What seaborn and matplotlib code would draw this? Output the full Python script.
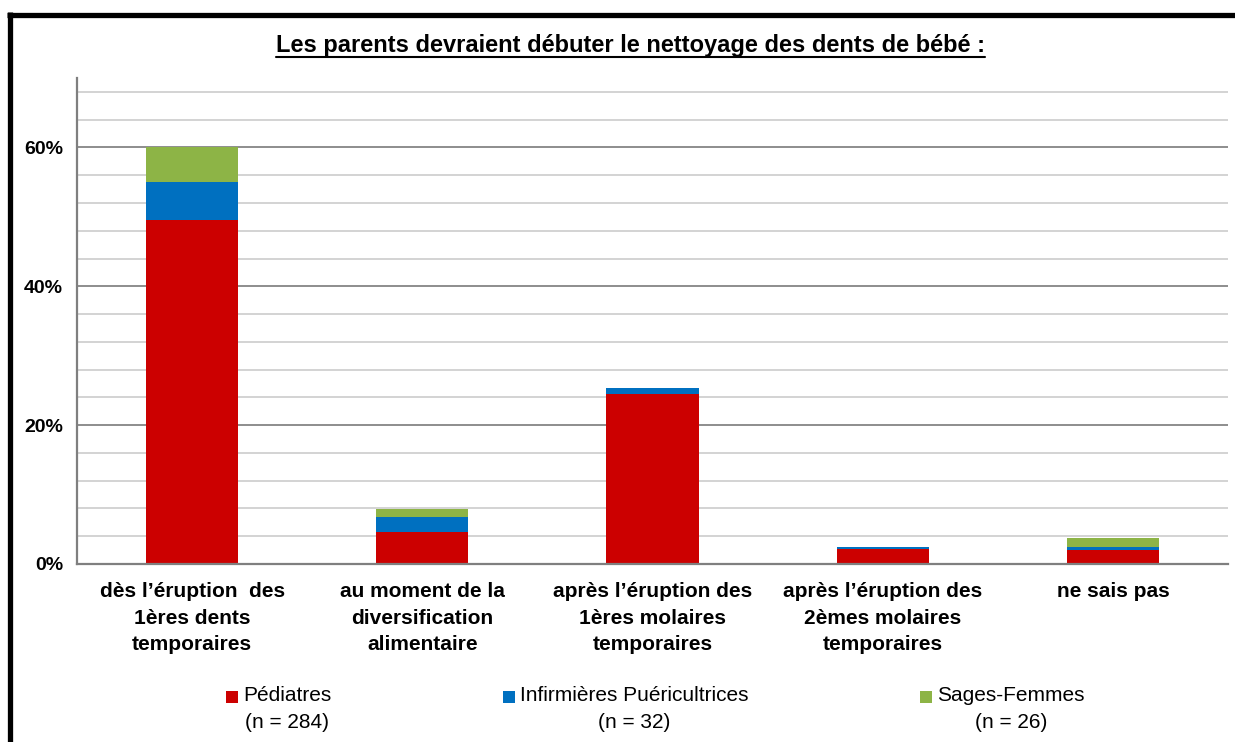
import numpy as np
import seaborn as sns
import matplotlib
matplotlib.use("Agg")
import matplotlib.pyplot as plt
from matplotlib.ticker import FixedLocator, MultipleLocator, FuncFormatter
from matplotlib.patches import Rectangle
from matplotlib.lines import Line2D
from matplotlib.legend_handler import HandlerBase

# --- data -------------------------------------------------------------
title = "Les parents devraient débuter le nettoyage des dents de bébé :"
categories = [
    "dès l’éruption  des\n1ères dents\ntemporaires",
    "au moment de la\ndiversification\nalimentaire",
    "après l’éruption des\n1ères molaires\ntemporaires",
    "après l’éruption des\n2èmes molaires\ntemporaires",
    "ne sais pas",
]
groups = ["Pédiatres", "Infirmières Puéricultrices", "Sages-Femmes"]
group_sizes = [284, 32, 26]
pediatres = [49.5, 4.6, 24.5, 2.1, 2.0]
infirmieres = [5.5, 2.1, 0.9, 0.4, 0.5]
sages_femmes = [5.0, 1.2, 0.0, 0.0, 1.3]
colors = ["#CC0000", "#0070C0", "#8DB446"]
y_major = [0, 20, 40, 60]

# --- style ------------------------------------------------------------
sns.set_theme(style="white")
plt.rcParams["font.family"] = ["Liberation Sans", "DejaVu Sans"]

W, H = 1235, 742
fig = plt.figure(figsize=(W / 100, H / 100), dpi=100)
ax = fig.add_axes([77 / W, 1 - 564 / H, (1228 - 77) / W, (564 - 78) / H])

# stacked bars, one seaborn layer per profession
bottom = np.zeros(len(categories))
for name, vals, col in zip(groups, [pediatres, infirmieres, sages_femmes], colors):
    sns.barplot(x=categories, y=vals, order=categories, color=col, width=0.4,
                saturation=1, errorbar=None, bottom=bottom, linewidth=0,
                ax=ax, zorder=3)
    bottom = bottom + np.asarray(vals)

# --- axes -------------------------------------------------------------
ax.set_ylim(0, 70)
ax.set_xlim(-0.5, len(categories) - 0.5)
ax.yaxis.set_major_locator(FixedLocator(y_major))
ax.yaxis.set_minor_locator(MultipleLocator(4))
ax.yaxis.set_major_formatter(FuncFormatter(lambda v, p: f"{v:.0f}%"))
ax.grid(which="major", axis="y", color="#858585", linewidth=1.3, zorder=0)
ax.grid(which="minor", axis="y", color="#cccccc", linewidth=1.2, zorder=0)
ax.set_axisbelow(True)
ax.set_xlabel("")
ax.set_ylabel("")

grey = "#7f7f7f"
for side in ("top", "right"):
    ax.spines[side].set_visible(False)
for side in ("left", "bottom"):
    ax.spines[side].set_color(grey)
    ax.spines[side].set_linewidth(1.6)
    ax.spines[side].set_zorder(4)

ax.tick_params(axis="y", which="major", direction="out", length=5, width=1.3,
               color=grey, pad=5, labelsize=14, labelcolor="black")
ax.tick_params(axis="y", which="minor", length=0)
for lab in ax.get_yticklabels():
    lab.set_fontweight("bold")

ax.xaxis.set_minor_locator(FixedLocator(np.arange(-0.5, len(categories), 1.0)))
ax.tick_params(axis="x", which="minor", direction="out", length=5.5, width=1.3,
               color=grey)
ax.tick_params(axis="x", which="major", length=0, pad=13, labelsize=15,
               labelcolor="black")
for lab in ax.get_xticklabels():
    lab.set_fontweight("bold")
    lab.set_linespacing(1.5)

# --- legend -----------------------------------------------------------
class SquareHandler(HandlerBase):
    def create_artists(self, legend, orig_handle, xdescent, ydescent,
                       width, height, fontsize, trans):
        side = 0.58 * fontsize
        lift = 0.64 * fontsize
        r = Rectangle((width - side - xdescent, -ydescent + lift), side, side,
                      facecolor=orig_handle.get_facecolor(), edgecolor="none",
                      transform=trans)
        return [r]


handles = [Rectangle((0, 0), 1, 1, facecolor=c) for c in colors]
labels = [f"{g}\n(n = {n})" for g, n in zip(groups, group_sizes)]
leg = fig.legend(handles, labels, loc="upper center",
                 bbox_to_anchor=(655 / W, 1 - 686 / H), ncol=3, frameon=False,
                 fontsize=15, handler_map={Rectangle: SquareHandler()},
                 handlelength=0.6, handletextpad=0.25, columnspacing=8.2,
                 borderpad=0, borderaxespad=0, labelcolor="black")
for t in leg.get_texts():
    t.set_multialignment("center")
    t.set_linespacing(1.55)

# --- title with underline --------------------------------------------
ttl = fig.text(630 / W, 1 - 52 / H, title, ha="center", va="baseline",
               fontsize=17, fontweight="bold", color="black")

# --- outer frame (top and left edges) ---------------------------------
fig.add_artist(Line2D([7 / W, 1], [1 - 14.5 / H] * 2, transform=fig.transFigure,
                      color="black", linewidth=3.8, solid_capstyle="butt"))
fig.add_artist(Line2D([9.5 / W] * 2, [0, 1 - 12 / H], transform=fig.transFigure,
                      color="black", linewidth=3.8, solid_capstyle="butt"))

fig.canvas.draw()
bb = ttl.get_window_extent()
fig.add_artist(Line2D([bb.x0 / W, bb.x1 / W], [(H - 57) / H] * 2,
                      transform=fig.transFigure, color="black", linewidth=1.5))

fig.savefig("out.png", dpi=100)
